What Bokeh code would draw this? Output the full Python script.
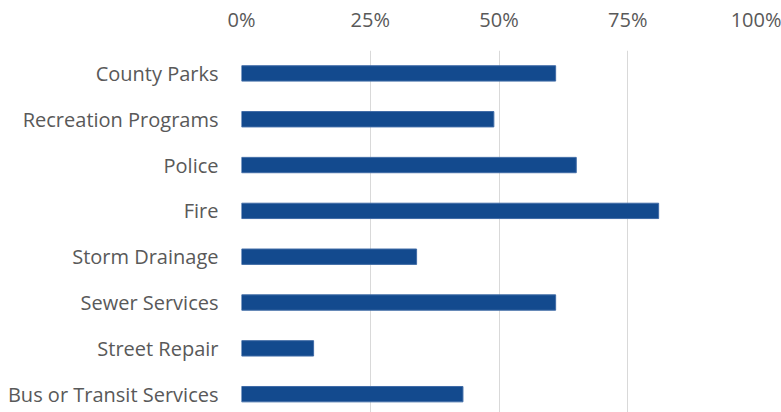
from bokeh.plotting import figure
from bokeh.models import Range1d, FixedTicker, ColumnDataSource
from bokeh.embed import file_html
from bokeh.resources import INLINE

categories = ["County Parks", "Recreation Programs", "Police", "Fire",
              "Storm Drainage", "Sewer Services", "Street Repair",
              "Bus or Transit Services"]
values = [0.61, 0.49, 0.65, 0.81, 0.34, 0.61, 0.14, 0.43]
x_ticks = [0, 0.25, 0.5, 0.75, 1.0]
x_tick_labels = ["0%", "25%", "50%", "75%", "100%"]

pos = list(range(len(categories)))
src = ColumnDataSource(dict(y=pos, v=values, cat=categories))

p = figure(width=781, height=412, output_backend="svg", toolbar_location=None,
           x_range=Range1d(0, 1.0), y_range=Range1d(7.40, -0.5),
           x_axis_location="above",
           min_border_left=241, min_border_right=25, min_border_top=50,
           min_border_bottom=0)
p.outline_line_color = None
p.background_fill_color = "white"
p.border_fill_color = "white"

p.hbar(y="y", left=0, right="v", height=0.335, source=src,
       fill_color="#134a8e", line_color="#3f6ba6", line_width=1)

xa = p.xaxis[0]
xa.ticker = FixedTicker(ticks=x_ticks)
xa.major_label_overrides = {t: l for t, l in zip(x_ticks, x_tick_labels)}
xa.axis_line_color = None
xa.major_tick_line_color = None
xa.minor_tick_line_color = None
xa.major_label_text_font = "Open Sans"
xa.major_label_text_font_size = "20px"
xa.major_label_text_color = "#595959"
xa.major_label_standoff = 12

ya = p.yaxis[0]
ya.ticker = FixedTicker(ticks=pos)
ya.major_label_overrides = {i: c for i, c in zip(pos, categories)}
ya.axis_line_color = None
ya.major_tick_line_color = None
ya.minor_tick_line_color = None
ya.major_label_text_font = "Open Sans"
ya.major_label_text_font_size = "20px"
ya.major_label_text_color = "#595959"
ya.major_label_standoff = 17

p.xgrid.grid_line_color = "#d9d9d9"
p.xgrid.ticker = FixedTicker(ticks=x_ticks)
p.ygrid.grid_line_color = None

open("out.html", "w").write(file_html(p, INLINE))
